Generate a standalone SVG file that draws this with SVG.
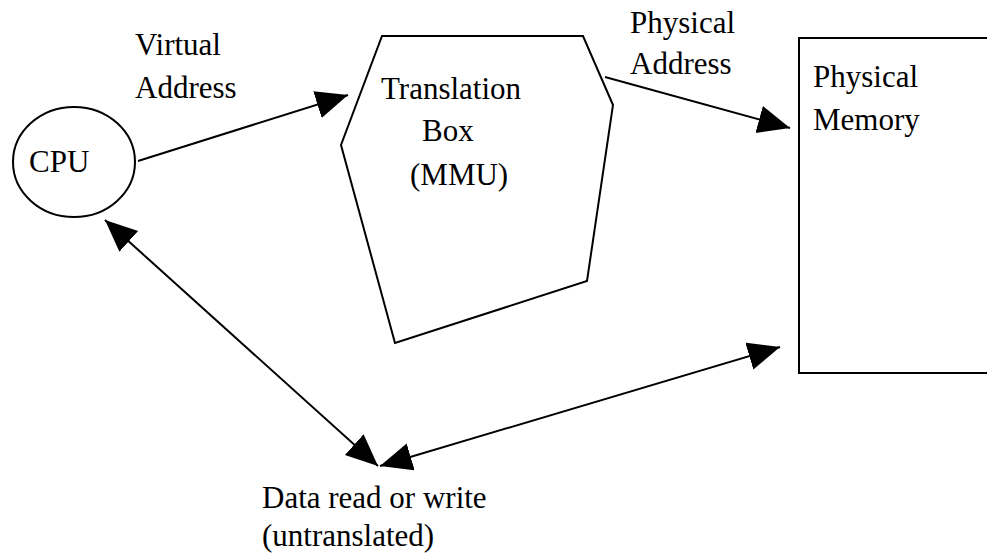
<svg xmlns="http://www.w3.org/2000/svg" width="987" height="556" viewBox="0 0 987 556">
<style>
.shape{fill:#fff;stroke:#000;stroke-width:2}
.conn{fill:none;stroke:#000;stroke-width:2}
.t{font-family:'Liberation Serif','Times New Roman',Times,serif;font-size:31px;fill:#000}
</style>
<defs>
<marker id="ah" markerUnits="userSpaceOnUse" markerWidth="34" markerHeight="30" refX="32" refY="14" orient="auto-start-reverse" viewBox="0 0 34 30">
<path d="M0,0 L32,14 L0,28 z" fill="#000"/>
</marker>
</defs>
<rect width="987" height="556" fill="#fff"/>
<g id="cpu">
<ellipse class="shape" cx="74" cy="162" rx="61" ry="55"/>
<text class="t" font-family="Liberation Serif, serif" x="29" y="172">CPU</text>
</g>
<g id="mmu">
<polygon class="shape" points="382,36 583,36 613,105 587,281 395,343 341,145"/>
<text class="t" font-family="Liberation Serif, serif" x="381" y="99">Translation</text>
<text class="t" font-family="Liberation Serif, serif" x="422" y="141">Box</text>
<text class="t" font-family="Liberation Serif, serif" x="410" y="185">(MMU)</text>
</g>
<g id="memory">
<rect class="shape" x="799" y="38" width="200" height="335" stroke-width="2.5"/>
<text class="t" font-family="Liberation Serif, serif" x="813" y="87">Physical</text>
<text class="t" font-family="Liberation Serif, serif" x="813" y="130">Memory</text>
</g>
<g id="labels">
<text class="t" font-family="Liberation Serif, serif" x="135" y="55">Virtual</text>
<text class="t" font-family="Liberation Serif, serif" x="135" y="98">Address</text>
<text class="t" font-family="Liberation Serif, serif" x="630" y="33">Physical</text>
<text class="t" font-family="Liberation Serif, serif" x="630" y="74">Address</text>
<text class="t" font-family="Liberation Serif, serif" x="262" y="508">Data read or write</text>
<text class="t" font-family="Liberation Serif, serif" x="262" y="546">(untranslated)</text>
</g>
<g id="connectors">
<line class="conn" x1="138" y1="161" x2="348" y2="95" marker-end="url(#ah)"/>
<line class="conn" x1="605" y1="77" x2="790" y2="128" marker-end="url(#ah)"/>
<line class="conn" x1="105" y1="220" x2="378" y2="466" marker-start="url(#ah)" marker-end="url(#ah)"/>
<line class="conn" x1="380" y1="466" x2="780" y2="347" marker-start="url(#ah)" marker-end="url(#ah)"/>
</g>
</svg>
